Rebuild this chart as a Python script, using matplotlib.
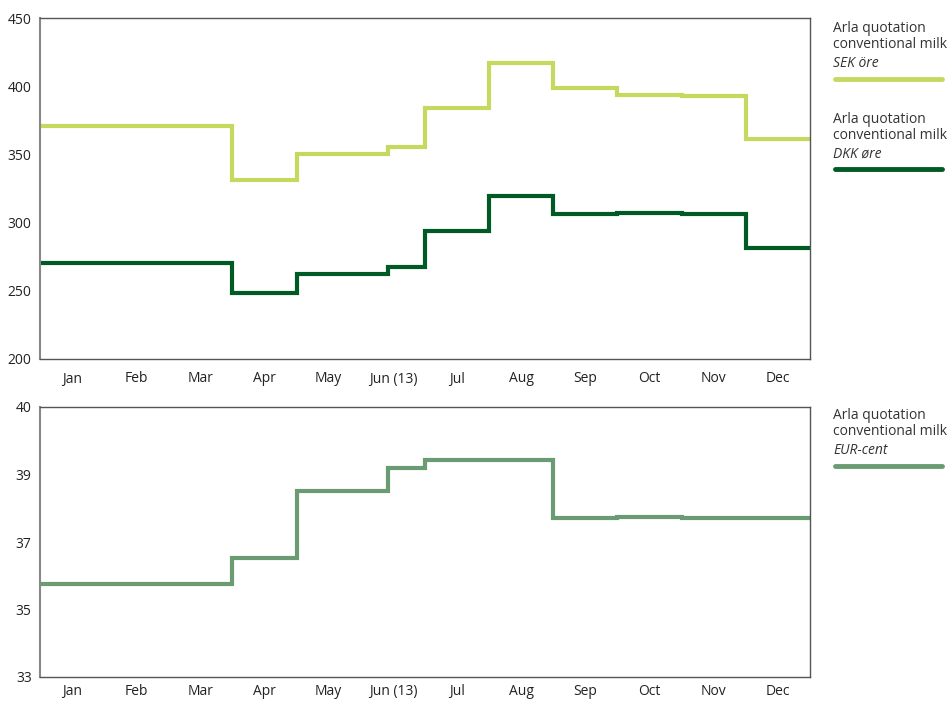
import matplotlib
matplotlib.use("Agg")
import matplotlib.pyplot as plt
from matplotlib.lines import Line2D

plt.rcParams['font.family'] = ['Open Sans', 'DejaVu Sans']

months = ['Jan', 'Feb', 'Mar', 'Apr', 'May', 'Jun (13)', 'Jul', 'Aug', 'Sep', 'Oct', 'Nov', 'Dec']
# price change dates in month units (Jan 1 = 0, Jun 13 ~ 5.43)
edges = [0, 3, 4, 5.43, 6, 7, 8, 9, 10, 11, 12]
sek = [370.5, 331.5, 350, 355.5, 384, 417, 398.5, 393.5, 392.5, 361.5]
dkk = [270.5, 248.5, 262.5, 267.5, 294, 319.5, 306, 307, 306, 281.5]
eur = [35.75, 36.52, 38.52, 39.18, 39.42, 39.42, 37.71, 37.74, 37.71, 37.71]

top_ticks = [200, 250, 300, 350, 400, 450]
bot_ticks = [33, 35, 37, 39, 41]
bot_ticklabels = ['33', '35', '37', '39', '40']

legend_top = [("Arla quotation\nconventional milk", "SEK öre", '#c3da5e'),
              ("Arla quotation\nconventional milk", "DKK øre", '#005a24')]
legend_bot = [("Arla quotation\nconventional milk", "EUR-cent", '#6b9b72')]

fig = plt.figure(figsize=(9.52, 7.02), dpi=100)
W, H = 952, 702
ax1 = fig.add_axes([40 / W, 1 - 359 / H, 770 / W, 341 / H])
ax2 = fig.add_axes([40 / W, 1 - 677 / H, 770 / W, 270 / H])

ax1.stairs(sek, edges, color=legend_top[0][2], lw=3, baseline=None)
ax1.stairs(dkk, edges, color=legend_top[1][2], lw=3, baseline=None)
ax2.stairs(eur, edges, color=legend_bot[0][2], lw=3, baseline=None)

ax1.set_ylim(200, 450)
ax1.set_yticks(top_ticks)
ax2.set_ylim(33, 41)
ax2.set_yticks(bot_ticks)
ax2.set_yticklabels(bot_ticklabels)

for ax, xpad in ((ax1, 9), (ax2, 5)):
    ax.set_xlim(0, 12)
    ax.set_xticks([i + 0.5 for i in range(12)])
    ax.set_xticklabels(months)
    ax.tick_params(length=0, labelsize=10, colors='#222222')
    ax.tick_params(axis='x', pad=xpad)
    ax.tick_params(axis='y', pad=6)
    for s in ax.spines.values():
        s.set_color('#555555')
        s.set_linewidth(1.0)
    ax.spines['left'].set_color('#888888')
    ax.spines['left'].set_linewidth(1.5)

def legend_entry(y_text, y_line, title, unit, color):
    fig.text(833 / W, 1 - y_text / H, title, fontsize=10, color='#333333',
             va='top', ha='left', linespacing=1.1)
    fig.text(833 / W, 1 - (y_text + 35) / H, unit, fontsize=10, color='#333333',
             va='top', ha='left', style='italic')
    fig.add_artist(Line2D([835 / W, 942 / W], [1 - y_line / H] * 2, color=color,
                          lw=3.5, solid_capstyle='round', transform=fig.transFigure))

legend_entry(21, 79, *legend_top[0])
legend_entry(112, 169, *legend_top[1])
legend_entry(408, 466, *legend_bot[0])

fig.savefig('out.png', dpi=100)
